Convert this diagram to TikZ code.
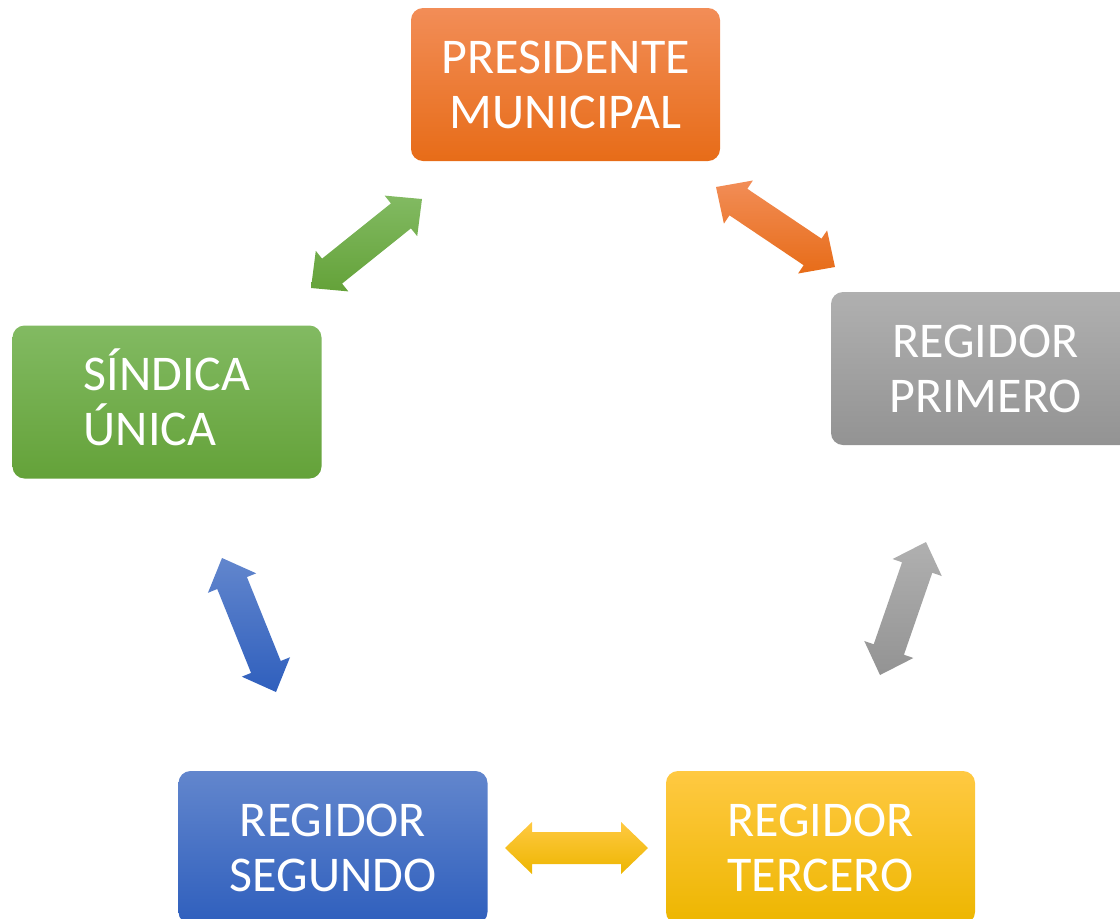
\documentclass[tikz,border=0pt]{standalone}
\usepackage{fontspec}
\setmainfont{Carlito}
\usetikzlibrary{calc}
\definecolor{orT}{HTML}{F28D57}
\definecolor{orM}{HTML}{F07C2E}
\definecolor{orB}{HTML}{E76C18}
\definecolor{grT}{HTML}{B0B0B0}
\definecolor{grM}{HTML}{A5A5A5}
\definecolor{grB}{HTML}{939393}
\definecolor{gnT}{HTML}{82BA62}
\definecolor{gnM}{HTML}{70AD47}
\definecolor{gnB}{HTML}{64A239}
\definecolor{blT}{HTML}{6286CD}
\definecolor{blM}{HTML}{4472C4}
\definecolor{blB}{HTML}{2F5FBD}
\definecolor{ylT}{HTML}{FFC942}
\definecolor{ylM}{HTML}{FFC300}
\definecolor{ylB}{HTML}{EDB600}
\tikzset{
  box/.style={rectangle, rounded corners=12pt, minimum width=309pt, minimum height=153pt,
    inner sep=0pt, text=white, align=center, font=\fontsize{50}{55}\selectfont},
  orangefill/.style={top color=orT, middle color=orM, bottom color=orB},
  grayfill/.style={top color=grT, middle color=grM, bottom color=grB},
  greenfill/.style={top color=gnT, middle color=gnM, bottom color=gnB},
  bluefill/.style={top color=blT, middle color=blM, bottom color=blB},
  yellowfill/.style={top color=ylT, middle color=ylM, bottom color=ylB},
}
\newcommand{\blockarrow}[3]{%
  \coordinate (#1h) at ($(#1)!27pt!(#2)$);
  \coordinate (#2h) at ($(#2)!27pt!(#1)$);
  \path[#3] (#1) -- ($(#1h)!26pt!90:(#2)$) -- ($(#1h)!16pt!90:(#2)$)
    -- ($(#2h)!16pt!-90:(#1)$) -- ($(#2h)!26pt!-90:(#1)$) -- (#2)
    -- ($(#2h)!26pt!90:(#1)$) -- ($(#2h)!16pt!90:(#1)$)
    -- ($(#1h)!16pt!-90:(#2)$) -- ($(#1h)!26pt!-90:(#2)$) -- cycle;}
\begin{document}
\begin{tikzpicture}[x=1pt,y=-1pt]
\useasboundingbox (0,0) rectangle (1120,919);
\clip (0,0) rectangle (1120,919);
\node[box, orangefill] (pres) at (565.5,84.5) {PRESIDENTE\\MUNICIPAL};
\node[box, grayfill] (prim) at (985.5,368.5) {REGIDOR\\PRIMERO};
\node[box, greenfill, align=left] (sind) at (167,402) {\raisebox{0pt}[\fontcharht\font`S][0pt]{SÍNDICA}\\ÚNICA};
\node[box, bluefill] (segu) at (333,847.5) {REGIDOR\\SEGUNDO};
\node[box, yellowfill] (terc) at (820.5,847.5) {REGIDOR\\TERCERO};
\coordinate (gA) at (311,288); \coordinate (gB) at (422,199);
\coordinate (oA) at (716,187); \coordinate (oB) at (835,267);
\coordinate (rA) at (926,542); \coordinate (rB) at (880,675);
\coordinate (bA) at (222,558); \coordinate (bB) at (276,692);
\coordinate (yA) at (505,848); \coordinate (yB) at (648,848);
\blockarrow{gA}{gB}{greenfill}
\blockarrow{oA}{oB}{orangefill}
\blockarrow{rA}{rB}{grayfill}
\blockarrow{bA}{bB}{bluefill}
\blockarrow{yA}{yB}{yellowfill}
\end{tikzpicture}
\end{document}
